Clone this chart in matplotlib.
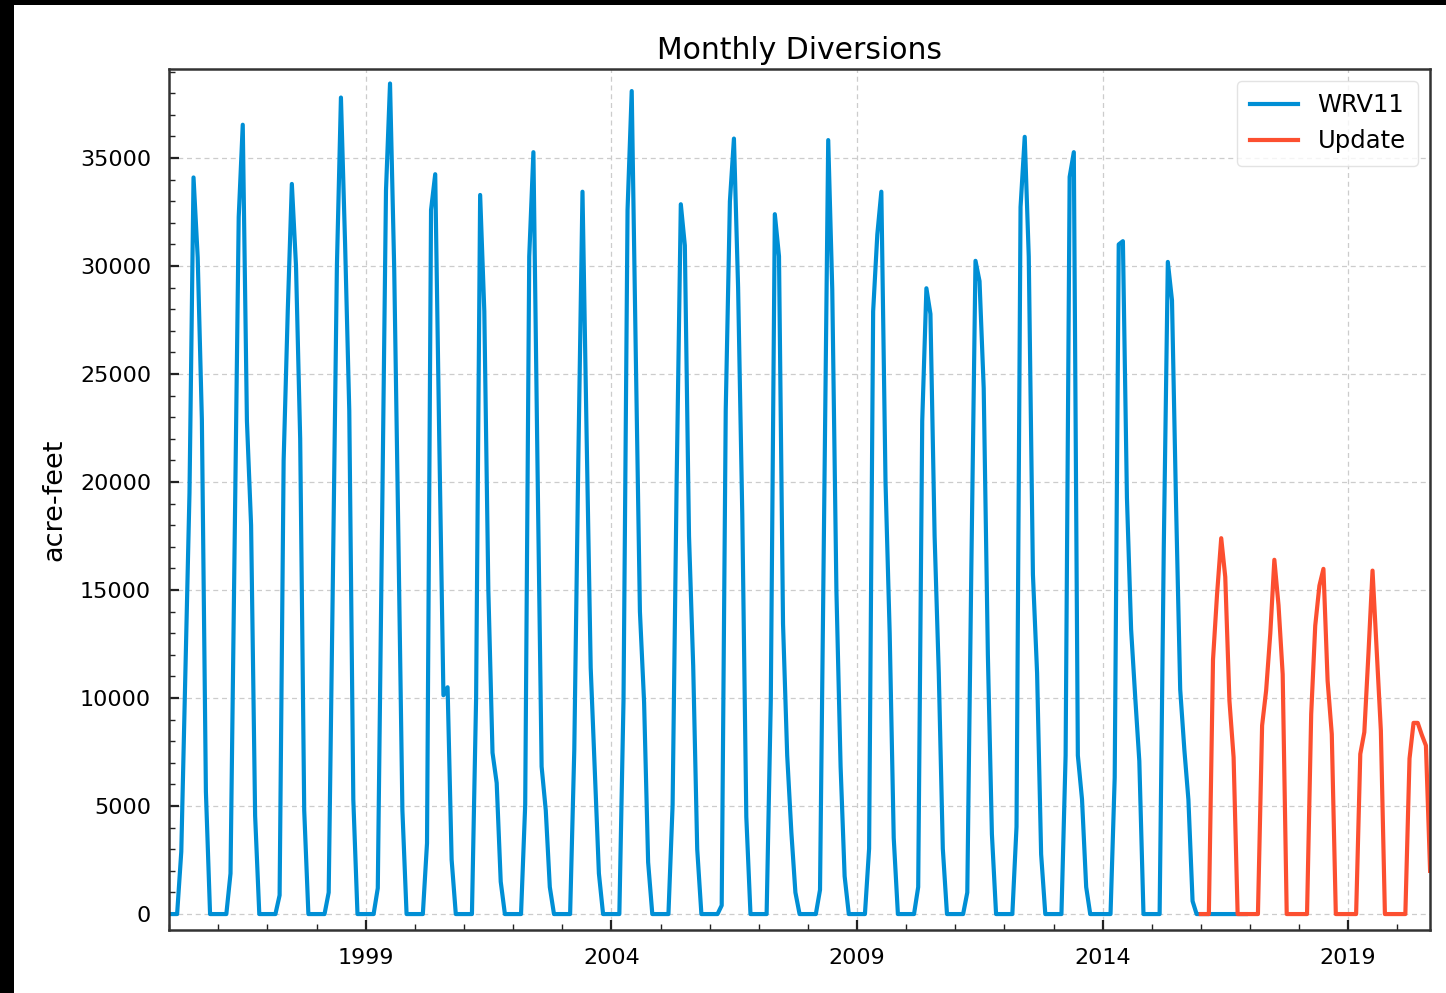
import matplotlib
matplotlib.use("Agg")
import matplotlib.pyplot as plt
import matplotlib.dates as mdates
from matplotlib.patches import Rectangle
from matplotlib.ticker import MultipleLocator
import pandas as pd

# monthly diversions, acre-feet, Jan..Dec per row
wrv11 = [
    0, 0, 0, 2890, 11000, 19500, 34100, 30400, 22900, 5660, 0, 0,       # 1995
    0, 0, 0, 1880, 17000, 32270, 36540, 22830, 18000, 4550, 0, 0,       # 1996
    0, 0, 0, 870, 21000, 28000, 33800, 30000, 22000, 4800, 0, 0,        # 1997
    0, 0, 0, 1000, 15000, 30000, 37800, 31000, 23300, 5300, 0, 0,       # 1998
    0, 0, 0, 1200, 17000, 33500, 38450, 29900, 17500, 4800, 0, 0,       # 1999
    0, 0, 0, 3280, 32600, 34250, 22000, 10130, 10500, 2520, 0, 0,       # 2000
    0, 0, 0, 10000, 33290, 27900, 15000, 7470, 6070, 1500, 0, 0,        # 2001
    0, 0, 0, 5050, 30440, 35270, 21000, 6830, 4800, 1250, 0, 0,         # 2002
    0, 0, 0, 7600, 21000, 33440, 22400, 11400, 6500, 1880, 0, 0,        # 2003
    0, 0, 0, 9900, 32600, 38100, 26000, 14000, 9800, 2400, 0, 0,        # 2004
    0, 0, 0, 5050, 20000, 32860, 30950, 17500, 11500, 3000, 0, 0,       # 2005
    0, 0, 0, 400, 23330, 33000, 35900, 29000, 18500, 4500, 0, 0,        # 2006
    0, 0, 0, 9880, 32400, 30450, 13430, 7340, 3780, 1000, 0, 0,         # 2007
    0, 0, 0, 1120, 18000, 35830, 28920, 14950, 6830, 1750, 0, 0,        # 2008
    0, 0, 0, 3030, 27900, 31460, 33440, 20000, 13000, 3530, 0, 0,       # 2009
    0, 0, 0, 1250, 22830, 28970, 27780, 17500, 11150, 3030, 0, 0,       # 2010
    0, 0, 0, 1000, 16000, 30240, 29300, 24350, 12000, 3700, 0, 0,       # 2011
    0, 0, 0, 4040, 32730, 35980, 30440, 15720, 11150, 2770, 0, 0,       # 2012
    0, 0, 0, 7340, 34125, 35270, 7340, 5310, 1250, 0, 0, 0,             # 2013
    0, 0, 0, 6320, 31000, 31150, 19270, 13180, 10000, 7090, 0, 0,       # 2014
    0, 0, 0, 17000, 30190, 28410, 19000, 10400, 7600, 5300, 600, 0,     # 2015
    0, 0, 0, 0, 0, 0, 0, 0, 0, 0, 0, 0,                                 # 2016
]

update = [
    0, 0, 0, 11780, 14800, 17400, 15610, 9880, 7260, 0, 0, 0,           # 2016
    0, 0, 0, 8730, 10350, 13000, 16400, 14300, 11100, 0, 0, 0,          # 2017
    0, 0, 0, 9260, 13350, 15200, 15980, 10800, 8330, 0, 0, 0,           # 2018
    0, 0, 0, 7410, 8420, 12100, 15900, 12200, 8490, 0, 0, 0,            # 2019
    0, 0, 0, 7200, 8850, 8850, 8300, 7800, 2000,                        # 2020
]

wrv11_start = "1995-01-01"
update_start = "2016-01-01"
major_years = [1999, 2004, 2009, 2014, 2019]

dates_wrv = pd.date_range(wrv11_start, periods=len(wrv11), freq="MS")
dates_upd = pd.date_range(update_start, periods=len(update), freq="MS")

fig = plt.figure(figsize=(14.46, 9.93), dpi=100, facecolor="white")
ax = fig.add_axes([0.117, 0.0634, 0.872, 0.8671])

ax.plot(dates_wrv, wrv11, color="#008fd5", lw=3.0, label="WRV11")
ax.plot(dates_upd, update, color="#fc4f30", lw=3.0, label="Update")

ax.set_xlim(dates_wrv[0], dates_upd[-1])
ax.set_ylim(-740, 39120)

ax.set_xticks([pd.Timestamp(f"{y}-01-01") for y in major_years])
ax.xaxis.set_major_formatter(mdates.DateFormatter("%Y"))
ax.xaxis.set_minor_locator(mdates.YearLocator(1))
ax.yaxis.set_major_locator(MultipleLocator(5000))
ax.yaxis.set_minor_locator(MultipleLocator(1000))

ax.tick_params(which="both", direction="in", top=False, right=False, colors="#222222")
ax.tick_params(which="major", length=7, width=1.6, labelsize=16, pad=13, labelcolor="black")
ax.tick_params(which="minor", length=4, width=1.0)

for s in ax.spines.values():
    s.set_linewidth(1.8)
    s.set_color("#333333")

ax.grid(True, which="major", color="#cccccc", linestyle=(0, (4, 3)), linewidth=0.9)
ax.set_axisbelow(True)

ax.set_title("Monthly Diversions", fontsize=21.5, pad=7)
ax.set_ylabel("acre-feet", fontsize=19.5, labelpad=9)

leg = ax.legend(loc="upper right", fontsize=17.5, frameon=True, borderpad=0.5)
leg.get_frame().set_edgecolor("#dddddd")

# black strips of the screenshot border
fig.patches.append(Rectangle((0, 1 - 5 / 993), 1, 5 / 993, transform=fig.transFigure,
                             facecolor="black", edgecolor="none", zorder=10))
fig.patches.append(Rectangle((0, 0), 14 / 1446, 1, transform=fig.transFigure,
                             facecolor="black", edgecolor="none", zorder=10))

fig.savefig("out.png", dpi=100)
